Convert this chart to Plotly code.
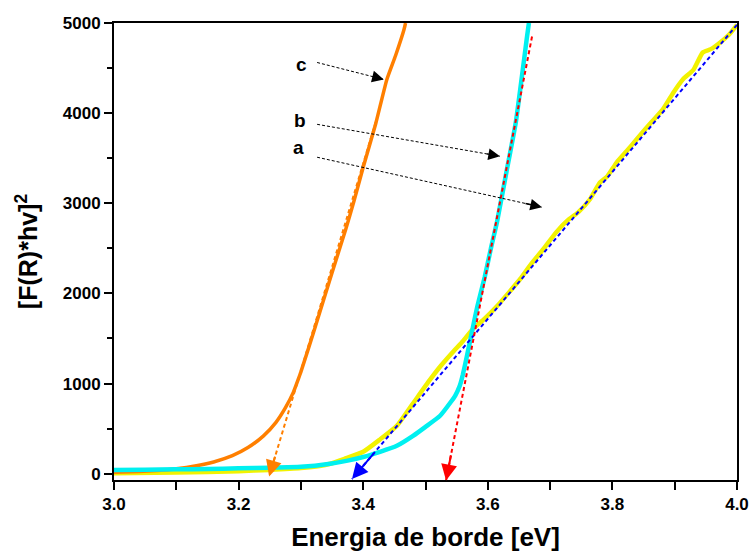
import plotly.graph_objects as go

# Absorption edge curves, Kubelka-Munk transform [F(R)*hv]^2 vs. energy (eV)
energy_a = [3.00, 3.10, 3.20, 3.25, 3.30, 3.33, 3.347, 3.37, 3.40, 3.427, 3.454,
            3.48, 3.507, 3.525, 3.544, 3.56, 3.576, 3.595, 3.615, 3.635, 3.652,
            3.67, 3.689, 3.71, 3.728, 3.745, 3.764, 3.78, 3.792, 3.807, 3.823,
            3.839, 3.86, 3.881, 3.898, 3.913, 3.93, 3.945, 3.958, 3.973, 3.987,
            4.0]
fr_a = [5, 12, 28, 42, 62, 85, 110, 165, 243, 380, 530,
        780, 1040, 1200, 1350, 1470, 1605, 1720, 1860, 2020, 2160,
        2330, 2490, 2680, 2810, 2900, 3045, 3230, 3300, 3455, 3580,
        3710, 3880, 4042, 4230, 4374, 4480, 4673, 4710, 4784, 4870,
        4980]

energy_b = [3.00, 3.05, 3.10, 3.15, 3.20, 3.25, 3.30, 3.347, 3.375, 3.40, 3.427,
            3.454, 3.48, 3.50, 3.523, 3.54, 3.548, 3.555, 3.56, 3.566, 3.576,
            3.583, 3.595, 3.605, 3.615, 3.63, 3.645, 3.663, 3.666]
fr_b = [40, 44, 48, 53, 59, 66, 76, 111, 145, 185, 243,
        310, 420, 520, 640, 790, 870, 975, 1100, 1290, 1620,
        1850, 2180, 2500, 2800, 3350, 3900, 4850, 5000]

energy_c = [3.00, 3.04, 3.07, 3.10, 3.13, 3.16, 3.19, 3.215, 3.24, 3.26, 3.275,
            3.288, 3.296, 3.30, 3.32, 3.35, 3.372, 3.385, 3.40, 3.42, 3.438,
            3.452, 3.4655, 3.468]
fr_c = [15, 24, 36, 55, 85, 130, 200, 290, 420, 570, 730,
        905, 1052, 1130, 1560, 2230, 2713, 3020, 3400, 3880, 4374,
        4640, 4928, 5000]

# Linear extrapolations of the absorption edges to the energy axis
tangent_a_x = [4.0, 3.382]
tangent_a_y = [4980, -60]
tangent_b_x = [3.671, 3.533]
tangent_b_y = [4850, -75]
tangent_c_x = [3.42, 3.249]
tangent_c_y = [3900, -30]

# Curve labels and their pointers (label position, pointer tail, pointer head)
label_text = ["a", "b", "c"]
label_x = [3.2965, 3.2985, 3.3015]
label_y = [3620, 3920, 4540]
pointer_tail_x = [3.326, 3.326, 3.326]
pointer_tail_y = [3511, 3876, 4562]
pointer_head_x = [3.687, 3.6196, 3.433]
pointer_head_y = [2957, 3522, 4374]

FONT = "Liberation Sans, Arial"

fig = go.Figure()

fig.add_trace(go.Scatter(x=energy_a, y=fr_a, mode="lines",
                         line=dict(color="#F2F200", width=4.5, shape="spline",
                                   smoothing=0.5)))
fig.add_trace(go.Scatter(x=energy_c, y=fr_c, mode="lines",
                         line=dict(color="#FF7F00", width=3.5, shape="spline",
                                   smoothing=0.5)))
fig.add_trace(go.Scatter(x=energy_b, y=fr_b, mode="lines",
                         line=dict(color="#00F0F0", width=4.5, shape="spline",
                                   smoothing=0.4)))

tangents = [
    (tangent_a_x, tangent_a_y, "#0000FF"),
    (tangent_b_x, tangent_b_y, "#FF0000"),
    (tangent_c_x, tangent_c_y, "#FF7F00"),
]
for tx, ty, col in tangents:
    fig.add_trace(go.Scatter(x=tx, y=ty, mode="lines",
                             line=dict(color=col, width=2, dash="4px,3px")))
    # arrowhead at the axis end of the extrapolated line
    fig.add_annotation(x=tx[1], y=ty[1], ax=tx[1] + 0.06 * (tx[0] - tx[1]),
                       ay=ty[1] + 0.06 * (ty[0] - ty[1]),
                       xref="x", yref="y", axref="x", ayref="y", text="",
                       showarrow=True, arrowhead=2, arrowsize=1.6,
                       arrowwidth=2, arrowcolor=col, standoff=0)

for i, txt in enumerate(label_text):
    fig.add_annotation(x=label_x[i], y=label_y[i], text="<b>%s</b>" % txt,
                       showarrow=False, xref="x", yref="y",
                       font=dict(family=FONT, size=19, color="black"))
    fig.add_trace(go.Scatter(x=[pointer_tail_x[i], pointer_head_x[i]],
                             y=[pointer_tail_y[i], pointer_head_y[i]],
                             mode="lines",
                             line=dict(color="black", width=1, dash="3px,2px")))
    hx, hy = pointer_head_x[i], pointer_head_y[i]
    fig.add_annotation(x=hx, y=hy,
                       ax=hx + 0.08 * (pointer_tail_x[i] - hx),
                       ay=hy + 0.08 * (pointer_tail_y[i] - hy),
                       xref="x", yref="y", axref="x", ayref="y", text="",
                       showarrow=True, arrowhead=2, arrowsize=1.8,
                       arrowwidth=1.3, arrowcolor="black", standoff=0)

tick_font = dict(family=FONT, size=17, color="black")
fig.update_layout(
    width=752, height=552,
    margin=dict(l=114, r=15, t=23, b=72),
    paper_bgcolor="white", plot_bgcolor="white",
    showlegend=False,
    font=dict(family=FONT, color="black"),
    xaxis=dict(range=[3.0, 4.0], tickvals=[3.0, 3.2, 3.4, 3.6, 3.8, 4.0],
               ticktext=["<b>3.0</b>", "<b>3.2</b>", "<b>3.4</b>",
                         "<b>3.6</b>", "<b>3.8</b>", "<b>4.0</b>"],
               ticks="outside", ticklen=8, tickwidth=1.5, tickcolor="black",
               minor=dict(ticks="outside", ticklen=8, tickwidth=1.5,
                          tickcolor="black", dtick=0.1, tick0=3.0),
               showline=True, linecolor="black", linewidth=2, mirror=True,
               showgrid=False, zeroline=False, tickfont=tick_font,
               automargin=False,
               title=dict(text="<b>Energia de borde [eV]</b>",
                          font=dict(family=FONT, size=26), standoff=14)),
    yaxis=dict(range=[-70, 5000],
               tickvals=[0, 1000, 2000, 3000, 4000, 5000],
               ticktext=["<b>0</b>", "<b>1000</b>", "<b>2000</b>",
                         "<b>3000</b>", "<b>4000</b>", "<b>5000</b>"],
               ticks="outside", ticklen=8, tickwidth=1.5, tickcolor="black",
               minor=dict(ticks="outside", ticklen=5, tickwidth=1.5,
                          tickcolor="black", dtick=500, tick0=0),
               showline=True, linecolor="black", linewidth=2, mirror=True,
               showgrid=False, zeroline=False, tickfont=tick_font,
               automargin=False,
               title=dict(text="<b>[F(R)*hv]<sup>2</sup></b>",
                          font=dict(family=FONT, size=25), standoff=18)),
)

fig.write_html("out.html")
